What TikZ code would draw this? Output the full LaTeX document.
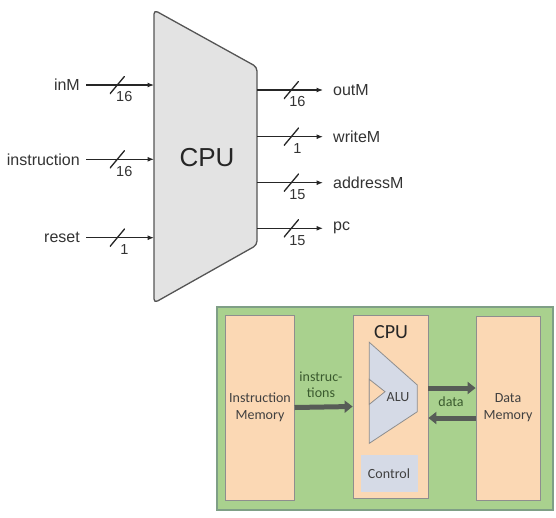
\documentclass[tikz,border=0pt]{standalone}
\usepackage{fontspec}
\setmainfont{Liberation Sans}
\newfontfamily\calfont{Carlito}
\usetikzlibrary{arrows.meta}
\definecolor{cpugray}{HTML}{E3E3E3}
\definecolor{edgegray}{HTML}{555555}
\definecolor{boardgreen}{HTML}{A9D18E}
\definecolor{boardedge}{HTML}{7F9F86}
\definecolor{peach}{HTML}{FBD8B4}
\definecolor{alublue}{HTML}{D5DAE6}
\definecolor{boxedge}{HTML}{8E8E8E}
\definecolor{busgray}{HTML}{575C57}
\definecolor{txtgreen}{HTML}{3A5A2E}
\begin{document}
\begin{tikzpicture}[x=1pt,y=-1pt,
  wire/.style={draw=black!85,line width=1.1pt,-{Latex[length=6.5pt,width=5pt]}},
  buscut/.style={inner sep=0pt,minimum width=15pt,minimum height=18pt,
    path picture={\draw[black!85,line width=1.3pt,arrows=-] (path picture bounding box.south west) -- (path picture bounding box.north east);}},
  num/.style={inner sep=0pt,font=\fontsize{14.5}{16}\selectfont,text=black!80},
  inlbl/.style={anchor=east,inner xsep=6pt,inner ysep=0pt,font=\fontsize{16}{18}\selectfont,text=black!80},
  outlbl/.style={anchor=west,inner xsep=10pt,inner ysep=0pt,font=\fontsize{16}{18}\selectfont,text=black!80},
  mem/.style={draw=boxedge,line width=0.8pt,fill=peach,align=center,text=black!75,
    font=\calfont\fontsize{14}{17}\selectfont},
  fatbus/.style={draw=busgray,line width=5pt,-{Triangle[length=8pt,width=12pt]}},
  greentxt/.style={text=txtgreen,align=center,font=\calfont\fontsize{14}{15.5}\selectfont}]
\useasboundingbox (0,0) rectangle (556,517);
\draw [edgegray,fill=cpugray,line width=1.3pt,rounded corners=4pt] (154,10) -- (257,67) -- (257,245) -- (154,303) -- cycle;
\node [font=\fontsize{26}{30}\selectfont,text=black!85] (cpu) at (207,157.5) {CPU};
\coordinate (pinM) at (154,85);
\coordinate (pinstr) at (154,159.3);
\coordinate (preset) at (154,237.7);
\coordinate (poutM) at (257,90);
\coordinate (pwriteM) at (257,136.7);
\coordinate (paddrM) at (257,182.7);
\coordinate (ppc) at (257,228.3);
\node [inlbl] (inM) at (86,85) {inM};
\node [inlbl] (instr) at (86,159.3) {instruction};
\node [inlbl] (reset) at (86,237.7) {reset};
\node [outlbl] (outM) at (323,90) {outM};
\node [outlbl] (writeM) at (323,136.7) {writeM};
\node [outlbl] (addrM) at (323,182.7) {addressM};
\node [outlbl] (pc) at (323,228.3) {pc};
\draw [wire] (inM) -- node [pos=.46,buscut] {} node [pos=.46,num,xshift=7pt,yshift=-12pt] {16} (pinM);
\draw [wire] (instr) -- node [pos=.46,buscut] {} node [pos=.46,num,xshift=7pt,yshift=-12pt] {16} (pinstr);
\draw [wire] (reset) -- node [pos=.46,buscut] {} node [pos=.46,num,xshift=7pt,yshift=-12pt] {1} (preset);
\draw [wire] (poutM) -- node [pos=.52,buscut] {} node [pos=.52,num,xshift=6pt,yshift=-12pt] {16} (outM);
\draw [wire] (pwriteM) -- node [pos=.52,buscut] {} node [pos=.52,num,xshift=6pt,yshift=-12pt] {1} (writeM);
\draw [wire] (paddrM) -- node [pos=.52,buscut] {} node [pos=.52,num,xshift=6pt,yshift=-12pt] {15} (addrM);
\draw [wire] (ppc) -- node [pos=.52,buscut] {} node [pos=.52,num,xshift=6pt,yshift=-12pt] {15} (pc);
\draw [boardedge,fill=boardgreen,line width=1.5pt] (217,307) rectangle (553,510);
\node [mem,minimum width=66pt,minimum height=185pt] (imem) at (260,407.5) {Instruction\\Memory};
\node [mem,minimum width=75pt,minimum height=183pt] (cpub) at (390.5,406.5) {};
\node [mem,minimum width=64pt,minimum height=184pt] (dmem) at (508,408) {Data\\Memory};
\node [font=\calfont\fontsize{20}{22}\selectfont,text=black!85] (cpuname) at (391,332) {CPU};
\draw [boxedge,fill=alublue,line width=0.8pt] (369.3,342.3) -- (417.3,385) -- (417.3,411.7) -- (369.3,443.3) -- cycle;
\draw [boxedge,fill=peach,line width=0.8pt] (369.3,379.3) -- (385,391.7) -- (369.3,404.3) -- cycle;
\node [font=\calfont\fontsize{14}{15}\selectfont,text=black!75] (alu) at (398,397) {ALU};
\node [fill=alublue,minimum width=57pt,minimum height=37pt,font=\calfont\fontsize{14}{15}\selectfont,text=black!75] (ctrl) at (389,473.5) {Control};
\coordinate (dtop) at (0,388);
\coordinate (dbot) at (0,418);
\draw [fatbus] (imem.east) -- (cpub.west);
\draw [fatbus] (cpub.east |- dtop) -- (dmem.west |- dtop);
\draw [fatbus] (dmem.west |- dbot) -- (cpub.east |- dbot);
\node [greentxt] (instrs) at (321,384.5) {instruc-\\tions};
\node [greentxt] (data) at (451,402) {data};
\end{tikzpicture}
\end{document}
